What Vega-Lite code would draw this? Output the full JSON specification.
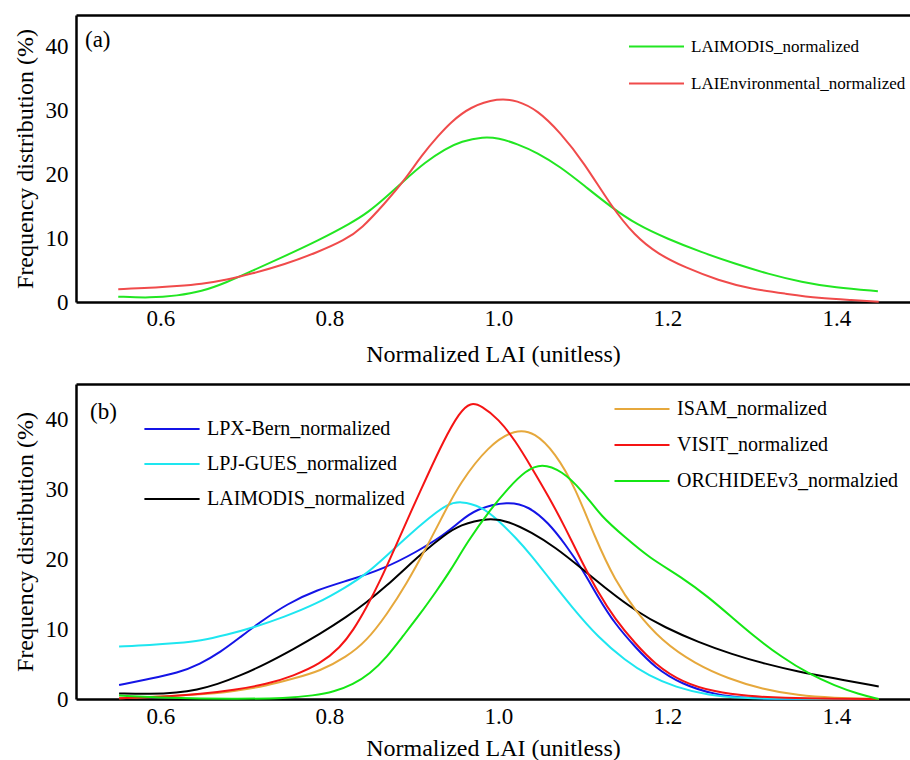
{
  "$schema": "https://vega.github.io/schema/vega-lite/v6.json",
  "background": "white",
  "padding": {"left": 12, "top": 15, "right": 0, "bottom": 0},
  "spacing": 17,
  "datasets": {
    "a": [
      {"series": "LAIMODIS_normalized", "lai": 0.55, "freq": 0.84},
      {"series": "LAIMODIS_normalized", "lai": 0.588, "freq": 0.63},
      {"series": "LAIMODIS_normalized", "lai": 0.62, "freq": 1.0},
      {"series": "LAIMODIS_normalized", "lai": 0.648, "freq": 1.6},
      {"series": "LAIMODIS_normalized", "lai": 0.679, "freq": 3.1},
      {"series": "LAIMODIS_normalized", "lai": 0.707, "freq": 4.8},
      {"series": "LAIMODIS_normalized", "lai": 0.747, "freq": 7.2},
      {"series": "LAIMODIS_normalized", "lai": 0.786, "freq": 9.6},
      {"series": "LAIMODIS_normalized", "lai": 0.826, "freq": 12.4},
      {"series": "LAIMODIS_normalized", "lai": 0.846, "freq": 14.1},
      {"series": "LAIMODIS_normalized", "lai": 0.865, "freq": 16.2},
      {"series": "LAIMODIS_normalized", "lai": 0.889, "freq": 19.1},
      {"series": "LAIMODIS_normalized", "lai": 0.913, "freq": 21.9},
      {"series": "LAIMODIS_normalized", "lai": 0.937, "freq": 24.0},
      {"series": "LAIMODIS_normalized", "lai": 0.956, "freq": 25.2},
      {"series": "LAIMODIS_normalized", "lai": 0.982, "freq": 25.9},
      {"series": "LAIMODIS_normalized", "lai": 1.0, "freq": 25.7},
      {"series": "LAIMODIS_normalized", "lai": 1.022, "freq": 24.8},
      {"series": "LAIMODIS_normalized", "lai": 1.046, "freq": 23.4},
      {"series": "LAIMODIS_normalized", "lai": 1.073, "freq": 21.2},
      {"series": "LAIMODIS_normalized", "lai": 1.101, "freq": 18.3},
      {"series": "LAIMODIS_normalized", "lai": 1.133, "freq": 14.9},
      {"series": "LAIMODIS_normalized", "lai": 1.164, "freq": 12.1},
      {"series": "LAIMODIS_normalized", "lai": 1.2, "freq": 9.9},
      {"series": "LAIMODIS_normalized", "lai": 1.24, "freq": 7.8},
      {"series": "LAIMODIS_normalized", "lai": 1.28, "freq": 6.0},
      {"series": "LAIMODIS_normalized", "lai": 1.319, "freq": 4.4},
      {"series": "LAIMODIS_normalized", "lai": 1.359, "freq": 3.1},
      {"series": "LAIMODIS_normalized", "lai": 1.398, "freq": 2.25},
      {"series": "LAIMODIS_normalized", "lai": 1.449, "freq": 1.7},
      {"series": "LAIEnvironmental_normalized", "lai": 0.55, "freq": 2.0},
      {"series": "LAIEnvironmental_normalized", "lai": 0.588, "freq": 2.2},
      {"series": "LAIEnvironmental_normalized", "lai": 0.62, "freq": 2.5},
      {"series": "LAIEnvironmental_normalized", "lai": 0.648, "freq": 2.8},
      {"series": "LAIEnvironmental_normalized", "lai": 0.679, "freq": 3.5},
      {"series": "LAIEnvironmental_normalized", "lai": 0.707, "freq": 4.4},
      {"series": "LAIEnvironmental_normalized", "lai": 0.747, "freq": 5.9},
      {"series": "LAIEnvironmental_normalized", "lai": 0.786, "freq": 7.8},
      {"series": "LAIEnvironmental_normalized", "lai": 0.818, "freq": 9.7},
      {"series": "LAIEnvironmental_normalized", "lai": 0.838, "freq": 11.5},
      {"series": "LAIEnvironmental_normalized", "lai": 0.865, "freq": 15.4},
      {"series": "LAIEnvironmental_normalized", "lai": 0.889, "freq": 19.1},
      {"series": "LAIEnvironmental_normalized", "lai": 0.909, "freq": 23.0},
      {"series": "LAIEnvironmental_normalized", "lai": 0.929, "freq": 26.1},
      {"series": "LAIEnvironmental_normalized", "lai": 0.943, "freq": 28.1},
      {"series": "LAIEnvironmental_normalized", "lai": 0.966, "freq": 30.6},
      {"series": "LAIEnvironmental_normalized", "lai": 1.0, "freq": 32.0},
      {"series": "LAIEnvironmental_normalized", "lai": 1.022, "freq": 31.6},
      {"series": "LAIEnvironmental_normalized", "lai": 1.046, "freq": 30.1},
      {"series": "LAIEnvironmental_normalized", "lai": 1.073, "freq": 26.6},
      {"series": "LAIEnvironmental_normalized", "lai": 1.101, "freq": 21.9},
      {"series": "LAIEnvironmental_normalized", "lai": 1.133, "freq": 15.1},
      {"series": "LAIEnvironmental_normalized", "lai": 1.161, "freq": 10.4},
      {"series": "LAIEnvironmental_normalized", "lai": 1.189, "freq": 7.5},
      {"series": "LAIEnvironmental_normalized", "lai": 1.221, "freq": 5.4},
      {"series": "LAIEnvironmental_normalized", "lai": 1.26, "freq": 3.4},
      {"series": "LAIEnvironmental_normalized", "lai": 1.3, "freq": 2.0},
      {"series": "LAIEnvironmental_normalized", "lai": 1.34, "freq": 1.3},
      {"series": "LAIEnvironmental_normalized", "lai": 1.379, "freq": 0.6},
      {"series": "LAIEnvironmental_normalized", "lai": 1.419, "freq": 0.3},
      {"series": "LAIEnvironmental_normalized", "lai": 1.45, "freq": 0.05}
    ],
    "b": [
      {"series": "LPX-Bern_normalized", "lai": 0.551, "freq": 2.0},
      {"series": "LPX-Bern_normalized", "lai": 0.588, "freq": 2.9},
      {"series": "LPX-Bern_normalized", "lai": 0.62, "freq": 3.7},
      {"series": "LPX-Bern_normalized", "lai": 0.647, "freq": 5.0},
      {"series": "LPX-Bern_normalized", "lai": 0.671, "freq": 6.7},
      {"series": "LPX-Bern_normalized", "lai": 0.694, "freq": 8.8},
      {"series": "LPX-Bern_normalized", "lai": 0.718, "freq": 11.0},
      {"series": "LPX-Bern_normalized", "lai": 0.75, "freq": 13.6},
      {"series": "LPX-Bern_normalized", "lai": 0.785, "freq": 15.6},
      {"series": "LPX-Bern_normalized", "lai": 0.824, "freq": 17.0},
      {"series": "LPX-Bern_normalized", "lai": 0.864, "freq": 18.6},
      {"series": "LPX-Bern_normalized", "lai": 0.903, "freq": 21.0},
      {"series": "LPX-Bern_normalized", "lai": 0.935, "freq": 23.4},
      {"series": "LPX-Bern_normalized", "lai": 0.954, "freq": 25.3},
      {"series": "LPX-Bern_normalized", "lai": 0.972, "freq": 27.1},
      {"series": "LPX-Bern_normalized", "lai": 1.012, "freq": 28.3},
      {"series": "LPX-Bern_normalized", "lai": 1.036, "freq": 27.5},
      {"series": "LPX-Bern_normalized", "lai": 1.059, "freq": 25.2},
      {"series": "LPX-Bern_normalized", "lai": 1.079, "freq": 22.1},
      {"series": "LPX-Bern_normalized", "lai": 1.099, "freq": 18.6},
      {"series": "LPX-Bern_normalized", "lai": 1.118, "freq": 14.5},
      {"series": "LPX-Bern_normalized", "lai": 1.138, "freq": 10.7},
      {"series": "LPX-Bern_normalized", "lai": 1.162, "freq": 7.4},
      {"series": "LPX-Bern_normalized", "lai": 1.185, "freq": 4.5},
      {"series": "LPX-Bern_normalized", "lai": 1.217, "freq": 2.1},
      {"series": "LPX-Bern_normalized", "lai": 1.256, "freq": 0.6},
      {"series": "LPX-Bern_normalized", "lai": 1.296, "freq": 0.1},
      {"series": "LPX-Bern_normalized", "lai": 1.335, "freq": 0.0},
      {"series": "LPX-Bern_normalized", "lai": 1.45, "freq": 0.0},
      {"series": "LPJ-GUES_normalized", "lai": 0.551, "freq": 7.5},
      {"series": "LPJ-GUES_normalized", "lai": 0.588, "freq": 7.7},
      {"series": "LPJ-GUES_normalized", "lai": 0.62, "freq": 8.0},
      {"series": "LPJ-GUES_normalized", "lai": 0.647, "freq": 8.3},
      {"series": "LPJ-GUES_normalized", "lai": 0.679, "freq": 9.2},
      {"series": "LPJ-GUES_normalized", "lai": 0.71, "freq": 10.2},
      {"series": "LPJ-GUES_normalized", "lai": 0.746, "freq": 11.7},
      {"series": "LPJ-GUES_normalized", "lai": 0.785, "freq": 13.6},
      {"series": "LPJ-GUES_normalized", "lai": 0.82, "freq": 16.0},
      {"series": "LPJ-GUES_normalized", "lai": 0.844, "freq": 17.9},
      {"series": "LPJ-GUES_normalized", "lai": 0.868, "freq": 20.5},
      {"series": "LPJ-GUES_normalized", "lai": 0.891, "freq": 23.1},
      {"series": "LPJ-GUES_normalized", "lai": 0.919, "freq": 26.0},
      {"series": "LPJ-GUES_normalized", "lai": 0.939, "freq": 27.8},
      {"series": "LPJ-GUES_normalized", "lai": 0.955, "freq": 28.3},
      {"series": "LPJ-GUES_normalized", "lai": 0.98, "freq": 27.5},
      {"series": "LPJ-GUES_normalized", "lai": 1.0, "freq": 25.5},
      {"series": "LPJ-GUES_normalized", "lai": 1.02, "freq": 23.1},
      {"series": "LPJ-GUES_normalized", "lai": 1.039, "freq": 20.5},
      {"series": "LPJ-GUES_normalized", "lai": 1.059, "freq": 17.4},
      {"series": "LPJ-GUES_normalized", "lai": 1.087, "freq": 13.1},
      {"series": "LPJ-GUES_normalized", "lai": 1.118, "freq": 8.8},
      {"series": "LPJ-GUES_normalized", "lai": 1.15, "freq": 5.5},
      {"series": "LPJ-GUES_normalized", "lai": 1.178, "freq": 3.3},
      {"series": "LPJ-GUES_normalized", "lai": 1.209, "freq": 1.7},
      {"series": "LPJ-GUES_normalized", "lai": 1.249, "freq": 0.5},
      {"series": "LPJ-GUES_normalized", "lai": 1.288, "freq": 0.15},
      {"series": "LPJ-GUES_normalized", "lai": 1.335, "freq": 0.0},
      {"series": "LPJ-GUES_normalized", "lai": 1.45, "freq": 0.0},
      {"series": "LAIMODIS_normalized", "lai": 0.551, "freq": 0.8},
      {"series": "LAIMODIS_normalized", "lai": 0.588, "freq": 0.7},
      {"series": "LAIMODIS_normalized", "lai": 0.62, "freq": 0.9},
      {"series": "LAIMODIS_normalized", "lai": 0.643, "freq": 1.3},
      {"series": "LAIMODIS_normalized", "lai": 0.667, "freq": 2.1},
      {"series": "LAIMODIS_normalized", "lai": 0.694, "freq": 3.3},
      {"series": "LAIMODIS_normalized", "lai": 0.726, "freq": 5.1},
      {"series": "LAIMODIS_normalized", "lai": 0.757, "freq": 7.1},
      {"series": "LAIMODIS_normalized", "lai": 0.789, "freq": 9.3},
      {"series": "LAIMODIS_normalized", "lai": 0.82, "freq": 11.7},
      {"series": "LAIMODIS_normalized", "lai": 0.844, "freq": 13.8},
      {"series": "LAIMODIS_normalized", "lai": 0.868, "freq": 16.2},
      {"series": "LAIMODIS_normalized", "lai": 0.891, "freq": 18.8},
      {"series": "LAIMODIS_normalized", "lai": 0.915, "freq": 21.4},
      {"series": "LAIMODIS_normalized", "lai": 0.935, "freq": 23.3},
      {"series": "LAIMODIS_normalized", "lai": 0.954, "freq": 24.9},
      {"series": "LAIMODIS_normalized", "lai": 0.988, "freq": 25.9},
      {"series": "LAIMODIS_normalized", "lai": 1.012, "freq": 25.4},
      {"series": "LAIMODIS_normalized", "lai": 1.039, "freq": 23.8},
      {"series": "LAIMODIS_normalized", "lai": 1.067, "freq": 21.7},
      {"series": "LAIMODIS_normalized", "lai": 1.099, "freq": 18.6},
      {"series": "LAIMODIS_normalized", "lai": 1.13, "freq": 15.5},
      {"series": "LAIMODIS_normalized", "lai": 1.162, "freq": 12.6},
      {"series": "LAIMODIS_normalized", "lai": 1.197, "freq": 10.2},
      {"series": "LAIMODIS_normalized", "lai": 1.237, "freq": 8.1},
      {"series": "LAIMODIS_normalized", "lai": 1.276, "freq": 6.4},
      {"series": "LAIMODIS_normalized", "lai": 1.316, "freq": 5.0},
      {"series": "LAIMODIS_normalized", "lai": 1.355, "freq": 3.9},
      {"series": "LAIMODIS_normalized", "lai": 1.395, "freq": 3.0},
      {"series": "LAIMODIS_normalized", "lai": 1.45, "freq": 1.8},
      {"series": "ISAM_normalized", "lai": 0.551, "freq": 0.1},
      {"series": "ISAM_normalized", "lai": 0.647, "freq": 0.6},
      {"series": "ISAM_normalized", "lai": 0.687, "freq": 1.1},
      {"series": "ISAM_normalized", "lai": 0.726, "freq": 1.9},
      {"series": "ISAM_normalized", "lai": 0.757, "freq": 2.9},
      {"series": "ISAM_normalized", "lai": 0.789, "freq": 4.0},
      {"series": "ISAM_normalized", "lai": 0.82, "freq": 6.0},
      {"series": "ISAM_normalized", "lai": 0.844, "freq": 8.3},
      {"series": "ISAM_normalized", "lai": 0.868, "freq": 12.1},
      {"series": "ISAM_normalized", "lai": 0.891, "freq": 16.4},
      {"series": "ISAM_normalized", "lai": 0.915, "freq": 21.7},
      {"series": "ISAM_normalized", "lai": 0.935, "freq": 26.4},
      {"series": "ISAM_normalized", "lai": 0.954, "freq": 30.8},
      {"series": "ISAM_normalized", "lai": 0.988, "freq": 36.2},
      {"series": "ISAM_normalized", "lai": 1.02, "freq": 38.6},
      {"series": "ISAM_normalized", "lai": 1.043, "freq": 38.1},
      {"series": "ISAM_normalized", "lai": 1.067, "freq": 35.2},
      {"series": "ISAM_normalized", "lai": 1.091, "freq": 30.2},
      {"series": "ISAM_normalized", "lai": 1.114, "freq": 23.1},
      {"series": "ISAM_normalized", "lai": 1.138, "freq": 16.9},
      {"series": "ISAM_normalized", "lai": 1.162, "freq": 12.6},
      {"series": "ISAM_normalized", "lai": 1.193, "freq": 8.3},
      {"series": "ISAM_normalized", "lai": 1.233, "freq": 5.0},
      {"series": "ISAM_normalized", "lai": 1.272, "freq": 2.9},
      {"series": "ISAM_normalized", "lai": 1.312, "freq": 1.4},
      {"series": "ISAM_normalized", "lai": 1.355, "freq": 0.5},
      {"series": "ISAM_normalized", "lai": 1.395, "freq": 0.15},
      {"series": "ISAM_normalized", "lai": 1.45, "freq": 0.0},
      {"series": "VISIT_normalized", "lai": 0.551, "freq": 0.1},
      {"series": "VISIT_normalized", "lai": 0.608, "freq": 0.33},
      {"series": "VISIT_normalized", "lai": 0.647, "freq": 0.7},
      {"series": "VISIT_normalized", "lai": 0.687, "freq": 1.3},
      {"series": "VISIT_normalized", "lai": 0.726, "freq": 2.1},
      {"series": "VISIT_normalized", "lai": 0.757, "freq": 3.3},
      {"series": "VISIT_normalized", "lai": 0.789, "freq": 5.0},
      {"series": "VISIT_normalized", "lai": 0.813, "freq": 7.4},
      {"series": "VISIT_normalized", "lai": 0.828, "freq": 9.8},
      {"series": "VISIT_normalized", "lai": 0.844, "freq": 13.1},
      {"series": "VISIT_normalized", "lai": 0.86, "freq": 16.9},
      {"series": "VISIT_normalized", "lai": 0.876, "freq": 21.2},
      {"series": "VISIT_normalized", "lai": 0.895, "freq": 26.4},
      {"series": "VISIT_normalized", "lai": 0.915, "freq": 31.7},
      {"series": "VISIT_normalized", "lai": 0.935, "freq": 36.9},
      {"series": "VISIT_normalized", "lai": 0.954, "freq": 41.0},
      {"series": "VISIT_normalized", "lai": 0.967, "freq": 42.4},
      {"series": "VISIT_normalized", "lai": 0.98, "freq": 41.9},
      {"series": "VISIT_normalized", "lai": 1.0, "freq": 40.0},
      {"series": "VISIT_normalized", "lai": 1.02, "freq": 36.9},
      {"series": "VISIT_normalized", "lai": 1.039, "freq": 33.1},
      {"series": "VISIT_normalized", "lai": 1.059, "freq": 29.0},
      {"series": "VISIT_normalized", "lai": 1.079, "freq": 24.5},
      {"series": "VISIT_normalized", "lai": 1.099, "freq": 19.5},
      {"series": "VISIT_normalized", "lai": 1.118, "freq": 15.2},
      {"series": "VISIT_normalized", "lai": 1.138, "freq": 11.4},
      {"series": "VISIT_normalized", "lai": 1.162, "freq": 7.9},
      {"series": "VISIT_normalized", "lai": 1.185, "freq": 5.0},
      {"series": "VISIT_normalized", "lai": 1.217, "freq": 2.4},
      {"series": "VISIT_normalized", "lai": 1.256, "freq": 1.0},
      {"series": "VISIT_normalized", "lai": 1.296, "freq": 0.4},
      {"series": "VISIT_normalized", "lai": 1.335, "freq": 0.15},
      {"series": "VISIT_normalized", "lai": 1.4, "freq": 0.02},
      {"series": "VISIT_normalized", "lai": 1.45, "freq": 0.0},
      {"series": "ORCHIDEEv3_normalzied", "lai": 0.551, "freq": 0.5},
      {"series": "ORCHIDEEv3_normalzied", "lai": 0.608, "freq": 0.15},
      {"series": "ORCHIDEEv3_normalzied", "lai": 0.687, "freq": 0.0},
      {"series": "ORCHIDEEv3_normalzied", "lai": 0.75, "freq": 0.1},
      {"series": "ORCHIDEEv3_normalzied", "lai": 0.781, "freq": 0.5},
      {"series": "ORCHIDEEv3_normalzied", "lai": 0.805, "freq": 1.0},
      {"series": "ORCHIDEEv3_normalzied", "lai": 0.828, "freq": 2.1},
      {"series": "ORCHIDEEv3_normalzied", "lai": 0.848, "freq": 3.6},
      {"series": "ORCHIDEEv3_normalzied", "lai": 0.868, "freq": 6.0},
      {"series": "ORCHIDEEv3_normalzied", "lai": 0.887, "freq": 9.0},
      {"series": "ORCHIDEEv3_normalzied", "lai": 0.907, "freq": 12.1},
      {"series": "ORCHIDEEv3_normalzied", "lai": 0.927, "freq": 15.5},
      {"series": "ORCHIDEEv3_normalzied", "lai": 0.943, "freq": 18.3},
      {"series": "ORCHIDEEv3_normalzied", "lai": 0.964, "freq": 22.6},
      {"series": "ORCHIDEEv3_normalzied", "lai": 0.988, "freq": 26.7},
      {"series": "ORCHIDEEv3_normalzied", "lai": 1.012, "freq": 30.2},
      {"series": "ORCHIDEEv3_normalzied", "lai": 1.032, "freq": 32.6},
      {"series": "ORCHIDEEv3_normalzied", "lai": 1.051, "freq": 33.7},
      {"series": "ORCHIDEEv3_normalzied", "lai": 1.075, "freq": 32.6},
      {"series": "ORCHIDEEv3_normalzied", "lai": 1.099, "freq": 29.8},
      {"series": "ORCHIDEEv3_normalzied", "lai": 1.122, "freq": 26.0},
      {"series": "ORCHIDEEv3_normalzied", "lai": 1.15, "freq": 23.1},
      {"series": "ORCHIDEEv3_normalzied", "lai": 1.178, "freq": 20.2},
      {"series": "ORCHIDEEv3_normalzied", "lai": 1.217, "freq": 17.4},
      {"series": "ORCHIDEEv3_normalzied", "lai": 1.249, "freq": 14.5},
      {"series": "ORCHIDEEv3_normalzied", "lai": 1.276, "freq": 11.7},
      {"series": "ORCHIDEEv3_normalzied", "lai": 1.304, "freq": 8.8},
      {"series": "ORCHIDEEv3_normalzied", "lai": 1.335, "freq": 6.0},
      {"series": "ORCHIDEEv3_normalzied", "lai": 1.367, "freq": 3.6},
      {"series": "ORCHIDEEv3_normalzied", "lai": 1.398, "freq": 1.9},
      {"series": "ORCHIDEEv3_normalzied", "lai": 1.426, "freq": 0.7},
      {"series": "ORCHIDEEv3_normalzied", "lai": 1.45, "freq": 0.0}
    ]
  },
  "vconcat": [
    {
      "width": 834,
      "height": 287,
      "title": {"text": "(a)", "anchor": "start", "frame": "group", "orient": "top", "baseline": "top", "offset": 0, "dx": 9, "dy": 37, "font": "Liberation Serif", "fontSize": 23, "fontWeight": "normal", "color": "black"},
      "data": {"name": "a"},
      "layer": [
        {
          "transform": [{"filter": "datum.series == 'LAIMODIS_normalized'"}],
          "mark": {"type": "line", "interpolate": "basis", "strokeWidth": 2},
          "encoding": {
            "x": {"field": "lai", "type": "quantitative", "scale": {"domain": [0.5, 1.487], "nice": false, "zero": false}, "axis": {"orient": "bottom", "title": "Normalized LAI (unitless)", "values": [0.6, 0.8, 1.0, 1.2, 1.4], "format": ".1f", "labelPadding": 5, "titlePadding": 12}},
            "y": {"field": "freq", "type": "quantitative", "scale": {"domain": [0, 45], "nice": false}, "axis": {"title": "Frequency distribution (%)", "values": [0, 10, 20, 30, 40], "labelPadding": 8, "titlePadding": 8}},
            "color": {"field": "series", "type": "nominal", "scale": {"domain": ["LAIMODIS_normalized", "LAIEnvironmental_normalized"], "range": ["#22E622", "#F04B4B"]}, "legend": {"legendX": 552, "legendY": 3, "rowPadding": 0, "labelFontSize": 17, "symbolSize": 3025, "symbolType": "stroke", "labelOffset": 6}}
          }
        },
        {
          "transform": [{"filter": "datum.series == 'LAIEnvironmental_normalized'"}],
          "mark": {"type": "line", "interpolate": "basis", "strokeWidth": 2},
          "encoding": {
            "x": {"field": "lai", "type": "quantitative", "scale": {"domain": [0.5, 1.487], "nice": false, "zero": false}, "axis": {"orient": "top", "title": null, "labels": false, "ticks": false}},
            "y": {"field": "freq", "type": "quantitative", "scale": {"domain": [0, 45], "nice": false}, "axis": {"title": "Frequency distribution (%)", "values": [0, 10, 20, 30, 40], "labelPadding": 8, "titlePadding": 8}},
            "color": {"field": "series", "type": "nominal", "scale": {"domain": ["LAIMODIS_normalized", "LAIEnvironmental_normalized"], "range": ["#22E622", "#F04B4B"]}, "legend": {"legendX": 552, "legendY": 3, "rowPadding": 0, "labelFontSize": 17, "symbolSize": 3025, "symbolType": "stroke", "labelOffset": 6}}
          }
        }
      ],
      "resolve": {"axis": {"x": "independent"}}
    },
    {
      "width": 834,
      "height": 315,
      "title": {"text": "(b)", "anchor": "start", "frame": "group", "orient": "top", "baseline": "top", "offset": 0, "dx": 14, "dy": 41, "font": "Liberation Serif", "fontSize": 23, "fontWeight": "normal", "color": "black"},
      "data": {"name": "b"},
      "layer": [
        {
          "transform": [{"filter": "indexof(['LPX-Bern_normalized','LPJ-GUES_normalized','LAIMODIS_normalized'], datum.series) >= 0"}],
          "mark": {"type": "line", "interpolate": "basis", "strokeWidth": 2},
          "encoding": {
            "x": {"field": "lai", "type": "quantitative", "scale": {"domain": [0.5, 1.487], "nice": false, "zero": false}, "axis": {"orient": "bottom", "title": "Normalized LAI (unitless)", "values": [0.6, 0.8, 1.0, 1.2, 1.4], "format": ".1f", "labelPadding": 6, "titlePadding": 8}},
            "y": {"field": "freq", "type": "quantitative", "scale": {"domain": [0, 45], "nice": false}, "axis": {"title": "Frequency distribution (%)", "values": [0, 10, 20, 30, 40], "labelPadding": 8, "titlePadding": 8}},
            "color": {"field": "series", "type": "nominal", "scale": {"domain": ["LPX-Bern_normalized", "LPJ-GUES_normalized", "LAIMODIS_normalized"], "range": ["#1414E6", "#1EE6F0", "#000000"]}, "legend": {"legendX": 71, "legendY": 20, "rowPadding": 0, "labelFontSize": 20, "symbolSize": 2304, "symbolType": "M-1.15,0H1.15", "labelOffset": 10}}
          }
        },
        {
          "transform": [{"filter": "indexof(['ISAM_normalized','VISIT_normalized','ORCHIDEEv3_normalzied'], datum.series) >= 0"}],
          "mark": {"type": "line", "interpolate": "basis", "strokeWidth": 2},
          "encoding": {
            "x": {"field": "lai", "type": "quantitative", "scale": {"domain": [0.5, 1.487], "nice": false, "zero": false}, "axis": {"orient": "top", "title": null, "labels": false, "ticks": false}},
            "y": {"field": "freq", "type": "quantitative", "scale": {"domain": [0, 45], "nice": false}, "axis": {"title": "Frequency distribution (%)", "values": [0, 10, 20, 30, 40], "labelPadding": 8, "titlePadding": 8}},
            "stroke": {"field": "series", "type": "nominal", "scale": {"domain": ["ISAM_normalized", "VISIT_normalized", "ORCHIDEEv3_normalzied"], "range": ["#E6A83C", "#F51414", "#14E614"]}, "legend": {"legendX": 540, "legendY": -1, "rowPadding": 0, "labelFontSize": 20, "symbolSize": 2500, "symbolType": "M-1.1,0H1.1", "labelOffset": 9}}
          }
        }
      ],
      "resolve": {"axis": {"x": "independent"}}
    }
  ],
  "resolve": {"scale": {"x": "independent", "y": "independent", "color": "independent", "stroke": "independent"}, "legend": {"color": "independent", "stroke": "independent"}},
  "config": {
    "font": "Liberation Serif",
    "view": {"stroke": null},
    "axis": {"labelFont": "Liberation Serif", "titleFont": "Liberation Serif", "labelFontSize": 23, "titleFontSize": 24, "labelColor": "black", "titleColor": "black", "titleFontWeight": "normal", "domainColor": "black", "domainWidth": 2.5, "ticks": false, "tickSize": 0, "grid": false, "labelFlush": false, "labelOverlap": false},
    "legend": {"orient": "none", "title": null, "symbolStrokeWidth": 2, "symbolFillColor": "transparent", "labelFont": "Liberation Serif", "labelColor": "black", "labelLimit": 500, "padding": 0}
  }
}
